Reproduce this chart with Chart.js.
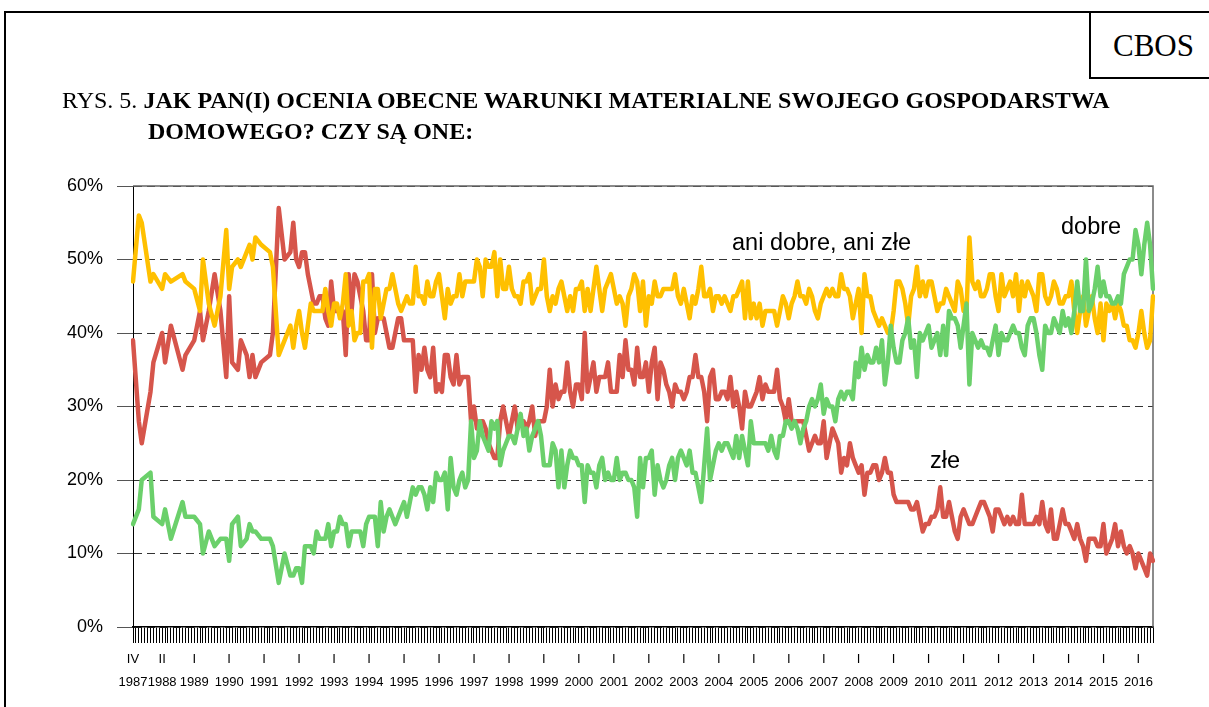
<!DOCTYPE html>
<html>
<head>
<meta charset="utf-8">
<style>
  body { margin: 0; background: #fff; width: 1209px; height: 707px; overflow: hidden; position: relative; }
  #frame { position: absolute; left: 4px; top: 11px; width: 1300px; height: 800px; border: 2px solid #000; }
  #logo { position: absolute; left: 1089px; top: 11px; width: 200px; height: 64px; border: 2px solid #000; }
  #logo span { position: absolute; left: 22px; top: 17px; font: 31px "Liberation Serif", "Times New Roman", serif; line-height: 31px; }
  #title { position: absolute; left: 62px; top: 85px; font: 24px "Liberation Serif", "Times New Roman", serif; line-height: 31px; white-space: nowrap; z-index: 2; }
  #title .l2 { padding-left: 86px; }
  .lab { position: absolute; font: 23.5px "Liberation Sans", Arial, sans-serif; line-height: 23.5px; white-space: nowrap; z-index: 2; }
  #chart { position: absolute; left: 0; top: 0; z-index: 1; }
</style>
</head>
<body>
<div id="frame"></div>
<div id="logo"><span>CBOS</span></div>
<div id="title">RYS. 5. <b>JAK PAN(I) OCENIA OBECNE WARUNKI MATERIALNE SWOJEGO GOSPODARSTWA</b><br><b class="l2">DOMOWEGO? CZY SĄ ONE:</b></div>
<canvas id="chart" width="1209" height="707"></canvas>
<div class="lab" style="left:732px; top:231px">ani dobre, ani złe</div>
<div class="lab" style="left:1061px; top:215px">dobre</div>
<div class="lab" style="left:930px; top:449px">złe</div>

<script src="https://cdn.jsdelivr.net/npm/chart.js"></script>
<script>
// monthly surveys, IV 1987 - VI 2016 (null = no survey that month)
const startYear = 1987;
const startMonth = 4;
const roman = ['I', 'II', 'III', 'IV', 'V', 'VI', 'VII', 'VIII', 'IX', 'X', 'XI', 'XII'];
const firstTickMonth = { 1987: 4, 1988: 2 }; // other years: January

const dobre = [
  14, null, 16, 20, null, null, 21, 15, null,             // 1987
  null, 14, 16, null, 12, null, null, null, 17, 15, null, null,
  15, null, 14, 10, null, 13, null, 11, null, 12, null, 12,
  9, 14, null, 15, 11, null, 12, 14, 13, 13, null, 12,     // 1990
  null, null, 12, 11, null, 6, null, 10, null, 7, 7, 8,
  8, 6, 11, 11, 11, 10, 13, 12, 12, 12, 14, 11,
  13, 13, 15, 14, 14, 11, 13, 13, 13, 13, 11, 14,
  15, 15, 15, 11, 17, 13, 15, 16, 15, 14, 15, 16,
  17, 15, 17, 19, 18, 19, 19, 18, 16, 19, 17, 21,          // 1995
  20, 20, 21, 16, 23, 19, 18, 20, 21, 19, 20, 28,
  23, 24, 28, 26, 25, 24, 28, 27, 28, 22, 24, 25,
  26, 26, 25, 27, 29, 26, 27, 24, 26, 27, 28, 26,
  22, 22, 22, 25, 24, 19, 24, 19, 22, 24, 23, 23,
  22, 22, 17, 22, 21, 21, 19, 22, 23, 20, 21, 20,          // 2000
  20, 23, 20, 21, 21, 20, 20, 19, 15, 23, 19, 23,
  23, 24, 18, 22, 20, 19, 20, 22, 23, 20, 23, 24,
  23, 22, 24, 21, 21, 19, 17, 22, 27, 20, 22, 24,
  25, 24, 25, 25, 24, 23, 26, 23, 26, 24, 22, 28,
  25, 25, 25, 25, 25, 24, 26, 24, 23, 26, 26, 28,          // 2005
  28, 27, 28, 27, 25, 27, 28, 30, 31, 30, 31, 33,
  29, 31, 30, 30, 28, 31, 32, 31, 32, 32, 31, 36,
  34, 38, 35, 37, 36, 36, 38, 36, 39, 33, 36, 41,
  38, 36, 36, 39, 40, 42, 38, 39, 34, 40, 39, 40,
  41, 38, 39, 40, 37, 41, 37, 43, 42, 42, 41, 38,          // 2010
  41, 44, 33, 40, 39, 38, 39, 38, 38, 37, 39, 41,
  37, 40, 39, 39, 40, 41, 40, 40, 38, 37, 41, 42,
  42, 40, 37, 35, 41, 40, 40, 42, 41, 40, 43, 41,
  42, 40, 43, 47, 43, 43, 50, 43, 44, 46, 49, 45,
  47, 45, 45, 44, 44, 45, 44, 48, 49, 50, 50, 54,          // 2015
  52, 48, 52, 55, 52, 46
];

const ani = [
  47, null, 56, 55, null, null, 47, 48, null,             // 1987
  null, 46, 48, null, 47, null, null, null, 48, 47, null, null,
  46, null, 43, 50, null, 44, null, 41, null, 45, null, 54,
  46, 49, null, 50, 49, null, 51, 52, 50, 53, null, 52,    // 1990
  null, null, 51, 49, null, 37, null, 39, null, 41, 38, 41,
  43, 40, 38, 41, 44, 43, 43, 43, 43, 46, 43, 41,
  44, 44, 42, 44, 48, 41, 43, 39, 40, 40, 47, 47,
  48, 38, 46, 46, 42, 44, 46, 46, 48, 46, 44, 43,
  44, 45, 44, 44, 49, 45, 45, 44, 47, 45, 45, 47,          // 1995
  48, 45, 42, 46, 44, 45, 45, 48, 45, 47, 47, 47,
  47, 50, 49, 45, 50, 49, 49, 51, 45, 50, 46, 46,
  49, 46, 45, 45, 44, 47, 47, 48, 44, 45, 46, 46,
  50, 45, 43, 45, 44, 46, 47, 45, 43, 45, 43, 46,
  46, 47, 43, 46, 43, 46, 49, 46, 43, 46, 47, 48,          // 2000
  46, 44, 45, 44, 41, 45, 46, 48, 47, 43, 47, 41,
  45, 44, 47, 45, 45, 46, 46, 46, 46, 48, 45, 44,
  46, 44, 42, 45, 44, 46, 49, 45, 45, 46, 43, 45,
  45, 44, 45, 44, 43, 45, 45, 46, 47, 42, 47, 42,
  44, 42, 44, 41, 43, 43, 43, 43, 41, 43, 45, 44,          // 2005
  42, 44, 45, 47, 45, 45, 44, 46, 45, 43, 42, 44,
  45, 46, 45, 46, 45, 45, 48, 46, 46, 45, 42, 44,
  46, 40, 48, 45, 45, 43, 42, 41, 42, 41, 40, 40,
  43, 47, 47, 46, 44, 41, 45, 46, 49, 45, 47, 45,
  47, 47, 45, 43, 44, 44, 46, 45, 44, 43, 47, 46,          // 2010
  43, 43, 53, 47, 46, 47, 45, 45, 46, 48, 48, 45,
  43, 48, 45, 46, 47, 45, 48, 43, 47, 45, 47, 46,
  45, 43, 48, 48, 45, 44, 45, 47, 46, 44, 44, 45,
  45, 47, 43, 40, 43, 45, 41, 43, 45, 42, 40, 44,
  39, 44, 43, 44, 42, 44, 43, 41, 41, 39, 39, 38,          // 2015
  40, 43, 40, 38, 39, 45
];

const zle = [
  39, null, 28, 25, null, null, 32, 36, null,             // 1987
  null, 40, 36, null, 41, null, null, null, 35, 37, null, null,
  39, null, 43, 39, null, 43, null, 48, null, 43, null, 34,
  45, 36, null, 35, 39, null, 37, 34, 37, 34, null, 36,    // 1990
  null, null, 37, 40, null, 57, null, 50, null, 51, 55, 50,
  49, 51, 51, 48, 46, 44, 44, 45, 45, 42, 41, 47,
  43, 43, 43, 43, 37, 48, 43, 48, 47, 45, 43, 39,
  39, 48, 40, 42, 42, 42, 40, 38, 38, 40, 42, 42,
  39, 39, 39, 39, 32, 37, 35, 38, 35, 34, 38, 32,          // 1995
  33, 32, 37, 37, 34, 33, 37, 33, 34, 34, 34, 28,
  30, 27, 28, 28, 27, 25, 24, 23, 23, 28, 30, 28,
  26, 28, 30, 27, 28, 28, 27, 28, 30, 26, 28, 28,
  28, 30, 35, 30, 33, 31, 32, 32, 36, 32, 30, 33,
  33, 31, 40, 32, 34, 36, 32, 34, 34, 34, 36, 32,          // 2000
  32, 32, 37, 34, 39, 35, 35, 33, 38, 34, 34, 36,
  32, 36, 38, 31, 36, 35, 33, 32, 30, 33, 32, 32,
  31, 32, 34, 34, 37, 34, 34, 32, 28, 34, 35, 31,
  31, 32, 32, 31, 34, 30, 32, 30, 27, 32, 30, 30,
  31, 32, 34, 31, 33, 32, 32, 32, 35, 31, 30, 28,          // 2005
  31, 28, 28, 28, 28, 28, 26, 24, 25, 26, 25, 25,
  28, 23, 25, 27, 26, 25, 21, 23, 22, 25, 23, 22,
  21, 22, 18, 21, 21, 22, 22, 20, 21, 23, 21, 21,
  18, 17, 17, 17, 17, 17, 16, 16, 17, 15, 13, 14,
  14, 15, 15, 16, 19, 15, 15, 17, 15, 13, 12, 15,          // 2010
  16, 15, 14, 14, 15, 16, 17, 17, 16, 15, 13, 16,
  16, 15, 14, 15, 14, 15, 14, 14, 18, 14, 14, 14,
  14, 15, 14, 17, 14, 13, 16, 12, 12, 14, 16, 14,
  14, 13, 12, 14, 12, 11, 9, 12, 12, 12, 11, 11,
  14, 10, 11, 12, 14, 11, 13, 11, 10, 11, 10, 8,           // 2015
  10, 9, 8, 7, 10, 9
];

const labels = [];
for (let i = 0; i < ani.length; i++) {
  const n = startMonth - 1 + i;
  labels.push((startYear + Math.floor(n / 12)) + '-' + (n % 12 + 1));
}

function tickText(i) {
  const [y, m] = labels[i].split('-').map(Number);
  if (m === (firstTickMonth[y] || 1)) return [roman[m - 1], String(y)];
  return '';
}

// solid top + right edge of the plot area
const plotEdge = {
  id: 'plotEdge',
  beforeDatasetsDraw(chart) {
    const { ctx, chartArea: a } = chart;
    ctx.save();
    ctx.strokeStyle = '#666';
    ctx.lineWidth = 1.5;
    ctx.beginPath();
    ctx.moveTo(a.left, a.top);
    ctx.lineTo(a.right, a.top);
    ctx.lineTo(a.right, a.bottom);
    ctx.stroke();
    ctx.restore();
  }
};

const font = '"Liberation Sans", Arial, sans-serif';

new Chart(document.getElementById('chart'), {
  type: 'line',
  data: {
    labels: labels,
    datasets: [
      { label: 'dobre', data: dobre, borderColor: '#6BD06B' },
      { label: 'ani dobre, ani złe', data: ani, borderColor: '#FFC000' },
      { label: 'złe', data: zle, borderColor: '#D6554B' }
    ]
  },
  options: {
    responsive: false,
    animation: false,
    devicePixelRatio: 1,
    layout: { padding: { left: 40, right: 56, top: 186, bottom: 10 } },
    datasets: {
      line: { borderWidth: 4.5, pointRadius: 0, tension: 0, spanGaps: true, borderJoinStyle: 'round', borderCapStyle: 'round' }
    },
    plugins: { legend: { display: false }, tooltip: { enabled: false } },
    scales: {
      x: {
        offset: false,
        grid: { drawOnChartArea: false, drawTicks: true, tickLength: 16, tickColor: '#000', tickWidth: 1 },
        border: { color: '#000', width: 1.5 },
        ticks: {
          autoSkip: false, maxRotation: 0, minRotation: 0, padding: 5, color: '#000',
          font: { family: font, size: 13, lineHeight: 1.75 },
          callback: (v, i) => tickText(i)
        },
        afterFit: s => { s.height = 70; }
      },
      y: {
        min: 0, max: 60,
        ticks: { stepSize: 10, padding: 14, color: '#000', font: { family: font, size: 18 }, callback: v => v + '%' },
        grid: { color: '#333', tickLength: 16, tickColor: '#555' },
        border: { color: '#000', width: 1, dash: [8, 5] },
        afterFit: s => { s.width = 93; }
      }
    }
  },
  plugins: [plotEdge]
});
</script>
</body>
</html>
